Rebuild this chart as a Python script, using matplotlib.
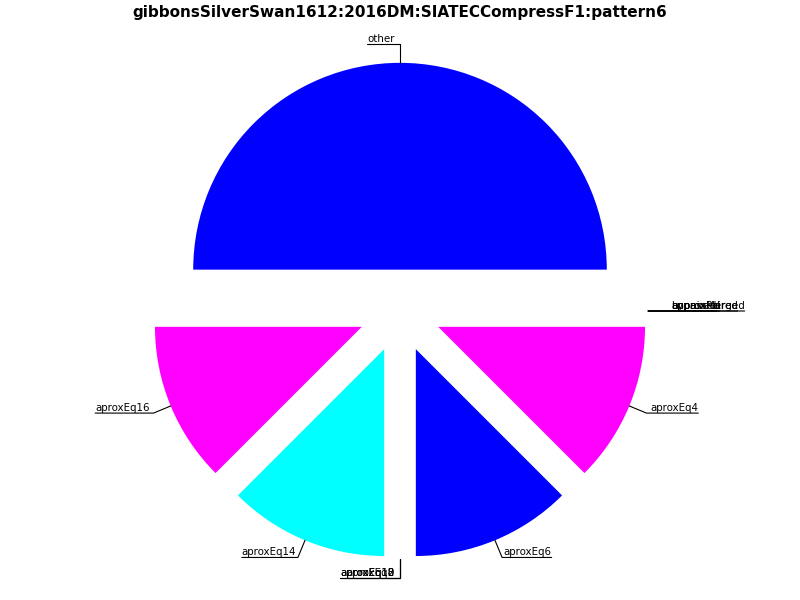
import numpy as np
import matplotlib
matplotlib.use("Agg")
import matplotlib.pyplot as plt

title = "gibbonsSilverSwan1612:2016DM:SIATECCompressF1:pattern6"
labels = ["other", "aproxEq16", "aproxEq14", "aproxEq12", "aproxEq10", "aproxEq8",
          "aproxEq6", "aproxEq4", "unpaired", "approxPaired", "bypassed", "approxMerged"]
values = [4, 1, 1, 0, 0, 0, 1, 1, 0, 0, 0, 0]
cycle = ["#0000ff", "#ff00ff", "#00ffff"]
colors = [cycle[i % 3] for i in range(len(values))]

fig = plt.figure(figsize=(8, 6), dpi=100)
# square axes in pixels, pie centre at (400, 311)
ax = fig.add_axes([141.5 / 800, 30.5 / 600, 517 / 800, 517 / 600])
explode = [0.2] * len(values)
wedges, _ = ax.pie(values, colors=colors, explode=explode, startangle=0,
                   counterclock=True, wedgeprops=dict(linewidth=0))
ax.set_xlim(-1.25, 1.25)
ax.set_ylim(-1.25, 1.25)
ax.axis("off")

for w, lab in zip(wedges, labels):
	ang = (w.theta1 + w.theta2) / 2.0
	x = np.cos(np.deg2rad(ang))
	y = np.sin(np.deg2rad(ang))
	tx = 1.31 * x
	if x > 1e-6:
		ha = "left"
		rel = (1, 0)
	else:
		ha = "right"
		rel = (0, 0)
		if abs(x) < 1e-6:
			tx = -0.025
	if abs(y) < 1e-6:
		conn = "arc3"
	else:
		conn = "angle,angleA=0,angleB=%g" % ang
	ax.annotate(lab, xy=(1.2 * x, 1.2 * y), xytext=(tx, 1.29 * y),
	            ha=ha, va="bottom", fontsize=7.4,
	            arrowprops=dict(arrowstyle="-", color="black", lw=0.8,
	                            shrinkA=0, shrinkB=0, relpos=rel, patchA=None,
	                            connectionstyle=conn))

fig.suptitle(title, fontsize=11, fontweight="bold", y=0.992)
fig.savefig("out.png", dpi=100)
